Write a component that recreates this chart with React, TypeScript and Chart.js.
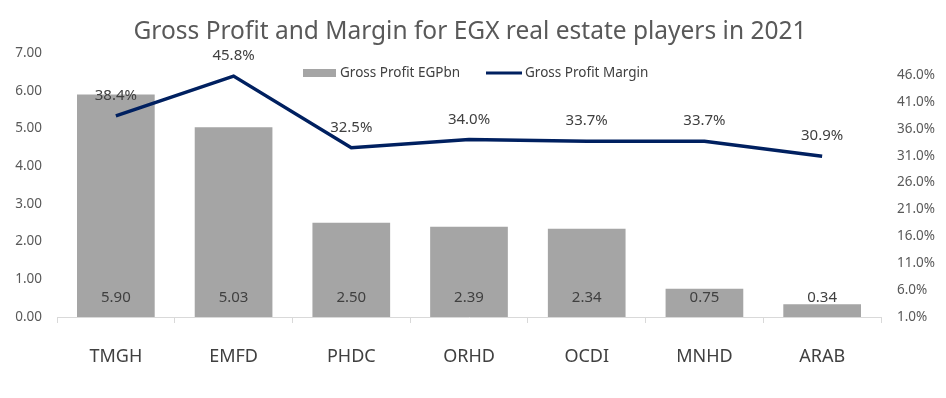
import React, { useEffect, useRef } from "react";
import { Chart, registerables } from "chart.js";

Chart.register(...registerables);

const categories = ["TMGH", "EMFD", "PHDC", "ORHD", "OCDI", "MNHD", "ARAB"];
const grossProfit = [5.9, 5.03, 2.5, 2.39, 2.34, 0.75, 0.34];
const grossMargin = [38.4, 45.8, 32.5, 34.0, 33.7, 33.7, 30.9];
const leftTicks = [0, 1, 2, 3, 4, 5, 6, 7];
const rightTicks = [1, 6, 11, 16, 21, 26, 31, 36, 41, 46];
const titleText = "Gross Profit and Margin for EGX real estate players in 2021";
const barLegend = "Gross Profit EGPbn";
const lineLegend = "Gross Profit Margin";

const FONT = "'Noto Sans', 'Open Sans', sans-serif";
const BAR_COLOR = "#A5A5A5";
const LINE_COLOR = "#002060";
const TEXT = "#404040";

const overlayPlugin = {
  id: "overlay",
  afterDatasetsDraw(chart: any) {
    const ctx = chart.ctx;
    const area = chart.chartArea;
    ctx.save();
    // bar labels
    const barMeta = chart.getDatasetMeta(0);
    ctx.font = `15px ${FONT}`;
    ctx.fillStyle = TEXT;
    ctx.textAlign = "center";
    ctx.textBaseline = "middle";
    barMeta.data.forEach((el: any, i: number) => {
      ctx.fillText(grossProfit[i].toFixed(2), el.x, area.bottom - 19);
    });
    // line labels
    const lineMeta = chart.getDatasetMeta(1);
    lineMeta.data.forEach((el: any, i: number) => {
      ctx.fillText(grossMargin[i].toFixed(1) + "%", el.x, el.y - 20);
    });
    // title
    ctx.font = `24.5px ${FONT}`;
    ctx.fillStyle = "#595959";
    ctx.fillText(titleText, 470, 32);
    // legend
    ctx.font = `13.5px ${FONT}`;
    ctx.fillStyle = BAR_COLOR;
    ctx.fillRect(303, 69, 33, 8);
    ctx.fillStyle = TEXT;
    ctx.textAlign = "left";
    ctx.fillText(barLegend, 340, 73);
    ctx.strokeStyle = LINE_COLOR;
    ctx.lineWidth = 3;
    ctx.beginPath();
    ctx.moveTo(486, 73);
    ctx.lineTo(522, 73);
    ctx.stroke();
    ctx.fillText(lineLegend, 525, 73);
    ctx.restore();
  },
};

export default function App() {
  const ref = useRef<HTMLCanvasElement | null>(null);
  useEffect(() => {
    if (!ref.current) return;
    const chart = new Chart(ref.current, {
      type: "bar",
      data: {
        labels: categories,
        datasets: [
          {
            type: "bar",
            label: barLegend,
            data: grossProfit,
            backgroundColor: BAR_COLOR,
            yAxisID: "y",
            categoryPercentage: 1,
            barPercentage: 0.66,
            order: 2,
          },
          {
            type: "line",
            label: lineLegend,
            data: grossMargin,
            borderColor: LINE_COLOR,
            backgroundColor: LINE_COLOR,
            borderWidth: 3.5,
            pointRadius: 0,
            tension: 0,
            yAxisID: "y1",
            order: 1,
          },
        ],
      },
      options: {
        animation: false,
        responsive: true,
        maintainAspectRatio: false,
        layout: { padding: { top: 53, left: 0, right: 0, bottom: 0 } },
        plugins: {
          legend: { display: false },
          title: { display: false },
          tooltip: { enabled: false },
        },
        scales: {
          x: {
            grid: {
              offset: true,
              drawOnChartArea: false,
              drawTicks: true,
              tickLength: 6,
              color: "#D9D9D9",
            },
            border: { color: "#D9D9D9" },
            ticks: { color: TEXT, font: { family: FONT, size: 18 }, padding: 23 },
            afterFit(s: any) {
              s.height = 81;
            },
          },
          y: {
            position: "left",
            min: 0,
            max: 7,
            grid: { display: false },
            border: { display: false },
            ticks: {
              color: "#595959",
              font: { family: FONT, size: 13.5 },
              padding: 7,
              callback: (v: any) => Number(v).toFixed(2),
            },
            afterBuildTicks(s: any) {
              s.ticks = leftTicks.map((v) => ({ value: v }));
            },
            afterFit(s: any) {
              s.width = 57;
            },
          },
          y1: {
            position: "right",
            min: 1,
            max: 50.1,
            grid: { display: false },
            border: { display: false },
            ticks: {
              color: "#595959",
              font: { family: FONT, size: 13.5 },
              padding: 8,
              callback: (v: any) => Number(v).toFixed(1) + "%",
            },
            afterBuildTicks(s: any) {
              s.ticks = rightTicks.map((v) => ({ value: v }));
            },
            afterFit(s: any) {
              s.width = 65;
            },
          },
        },
      },
      plugins: [overlayPlugin],
    } as any);
    return () => chart.destroy();
  }, []);
  return (
    <div
      style={{
        position: "fixed",
        left: 0,
        top: 0,
        width: 946,
        height: 398,
        background: "#fff",
      }}
    >
      <canvas ref={ref} />
    </div>
  );
}
